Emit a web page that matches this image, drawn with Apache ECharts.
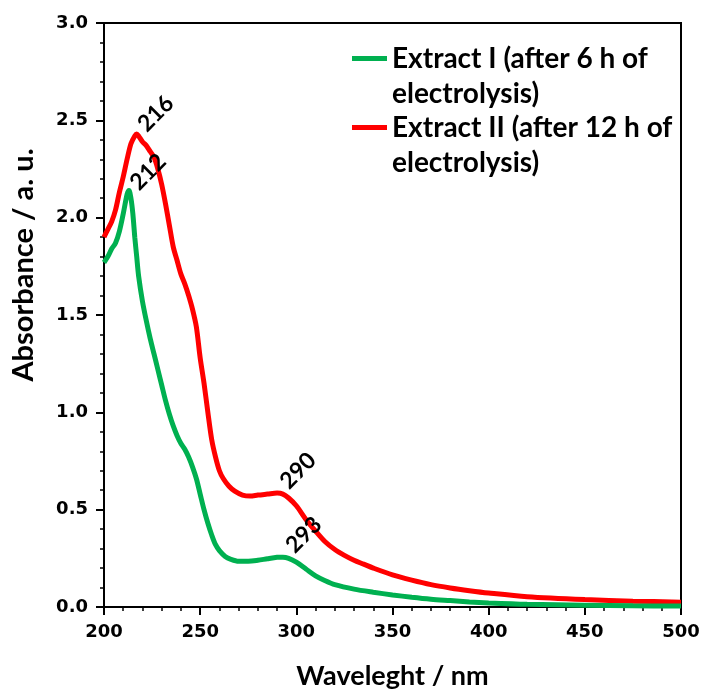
<!DOCTYPE html>
<html>
<head>
<meta charset="utf-8">
<script src="https://cdn.jsdelivr.net/npm/echarts@6/dist/echarts.min.js"></script>
<style>
html,body{margin:0;padding:0;background:#fff;}
#chart{width:702px;height:690px;}
</style>
</head>
<body>
<div id="chart"></div>
<script>
// Wavelength (nm) and absorbance
const wl1 = [200,202,204,206,208,210,212,213,214,215,216,217,218,220,222,224,226,228,230,232,234,236,238,240,242,244,246,248,250,252,254,256,258,260,263,266,270,275,280,285,290,293,296,300,305,310,315,320,330,340,350,360,370,380,390,400,420,450,475,500];
const abs1 = [1.77,1.80,1.84,1.87,1.93,2.02,2.12,2.14,2.10,2.02,1.90,1.80,1.70,1.57,1.47,1.38,1.30,1.22,1.14,1.06,0.99,0.93,0.88,0.84,0.81,0.77,0.72,0.66,0.58,0.50,0.43,0.37,0.32,0.29,0.26,0.245,0.235,0.235,0.24,0.248,0.255,0.256,0.25,0.23,0.195,0.16,0.135,0.115,0.092,0.076,0.062,0.05,0.04,0.033,0.026,0.021,0.014,0.009,0.006,0.005];

const wl2 = [200,202,204,206,208,210,212,214,216,217,218,220,222,224,226,228,230,232,234,236,238,240,242,244,246,248,250,252,254,256,258,260,262,265,268,272,276,280,285,290,293,296,300,305,310,315,320,325,330,335,340,350,360,370,380,390,400,420,450,475,500];
const abs2 = [1.90,1.94,1.98,2.04,2.13,2.21,2.30,2.38,2.42,2.43,2.42,2.39,2.37,2.34,2.31,2.25,2.17,2.07,1.96,1.85,1.78,1.71,1.66,1.60,1.53,1.44,1.28,1.15,1.00,0.86,0.77,0.70,0.66,0.62,0.595,0.575,0.57,0.575,0.58,0.585,0.58,0.56,0.52,0.45,0.39,0.335,0.295,0.265,0.24,0.22,0.20,0.165,0.138,0.115,0.098,0.084,0.072,0.053,0.038,0.03,0.025];

const seriesNames = ['Extract I (after 6 h of\nelectrolysis)', 'Extract II (after 12 h of\nelectrolysis)'];
const peaks1 = [212, 293];
const peaks2 = [216, 290];
const xTicks = [200, 250, 300, 350, 400, 450, 500];
const yTicks = [0, 0.5, 1.0, 1.5, 2.0, 2.5, 3.0];

function buildData(wl, abs, peaks) {
  return wl.map((w, i) => {
    const item = { value: [w, abs[i]] };
    if (peaks.indexOf(w) >= 0) {
      item.label = {
        show: true,
        formatter: String(w),
        rotate: 45,
        position: [15, 0],
        align: 'left',
        verticalAlign: 'bottom',
        fontFamily: 'Lato',
        fontWeight: 'bold',
        fontSize: 23,
        color: '#000'
      };
    }
    return item;
  });
}

const chart = echarts.init(document.getElementById('chart'), null, { renderer: 'canvas' });
chart.setOption({
  animation: false,
  backgroundColor: '#fff',
  grid: { left: 104, right: 21, top: 23, bottom: 83, outerBoundsMode: 'none', containLabel: false, show: true, borderColor: '#000', borderWidth: 2, backgroundColor: 'transparent' },
  legend: {
    orient: 'vertical',
    left: 352,
    top: 6,
    padding: 0,
    itemWidth: 35,
    itemHeight: 5,
    itemGap: -36,
    icon: 'rect',
    data: seriesNames.map(n => ({ name: n })),
    formatter: n => '\n' + n,
    textStyle: { fontFamily: 'Lato', fontWeight: 'bold', fontSize: 28, color: '#000', lineHeight: 35 }
  },
  xAxis: {
    type: 'value', min: xTicks[0], max: xTicks[xTicks.length - 1], interval: 50,
    name: 'Waveleght / nm', nameLocation: 'middle', nameGap: 56,
    nameTextStyle: { fontFamily: 'Lato', fontWeight: 'bold', fontSize: 27, color: '#000' },
    axisLine: { show: true, lineStyle: { color: '#000', width: 2 } },
    axisTick: { show: true, inside: false, length: 8, lineStyle: { color: '#000', width: 2 } },
    minorTick: { show: true, splitNumber: 5, length: 4, lineStyle: { color: '#000', width: 1.5 } },
    axisLabel: { margin: 16, fontFamily: 'DejaVu Sans', fontWeight: 'bold', fontSize: 18, color: '#000' },
    splitLine: { show: false }
  },
  yAxis: {
    type: 'value', min: yTicks[0], max: yTicks[yTicks.length - 1], interval: 0.5,
    name: 'Absorbance / a. u.', nameLocation: 'middle', nameGap: 66,
    nameTextStyle: { fontFamily: 'Lato', fontWeight: 'bold', fontSize: 29, color: '#000', padding: [0, 0, 0, 100] },
    axisLine: { show: true, lineStyle: { color: '#000', width: 2 } },
    axisTick: { show: true, inside: false, length: 8, lineStyle: { color: '#000', width: 2 } },
    minorTick: { show: true, splitNumber: 5, length: 4, lineStyle: { color: '#000', width: 1.5 } },
    axisLabel: { margin: 16, fontFamily: 'DejaVu Sans', fontWeight: 'bold', fontSize: 18, color: '#000', formatter: v => v.toFixed(1) },
    splitLine: { show: false }
  },
  series: [
    {
      name: seriesNames[0], type: 'line', smooth: 0.3, showSymbol: true, symbol: 'circle', symbolSize: 0,
      lineStyle: { color: '#00B050', width: 5 }, itemStyle: { color: '#00B050' },
      data: buildData(wl1, abs1, peaks1), z: 3
    },
    {
      name: seriesNames[1], type: 'line', smooth: 0.3, showSymbol: true, symbol: 'circle', symbolSize: 0,
      lineStyle: { color: '#FF0000', width: 5 }, itemStyle: { color: '#FF0000' },
      data: buildData(wl2, abs2, peaks2), z: 2
    }
  ]
});
</script>
</body>
</html>
